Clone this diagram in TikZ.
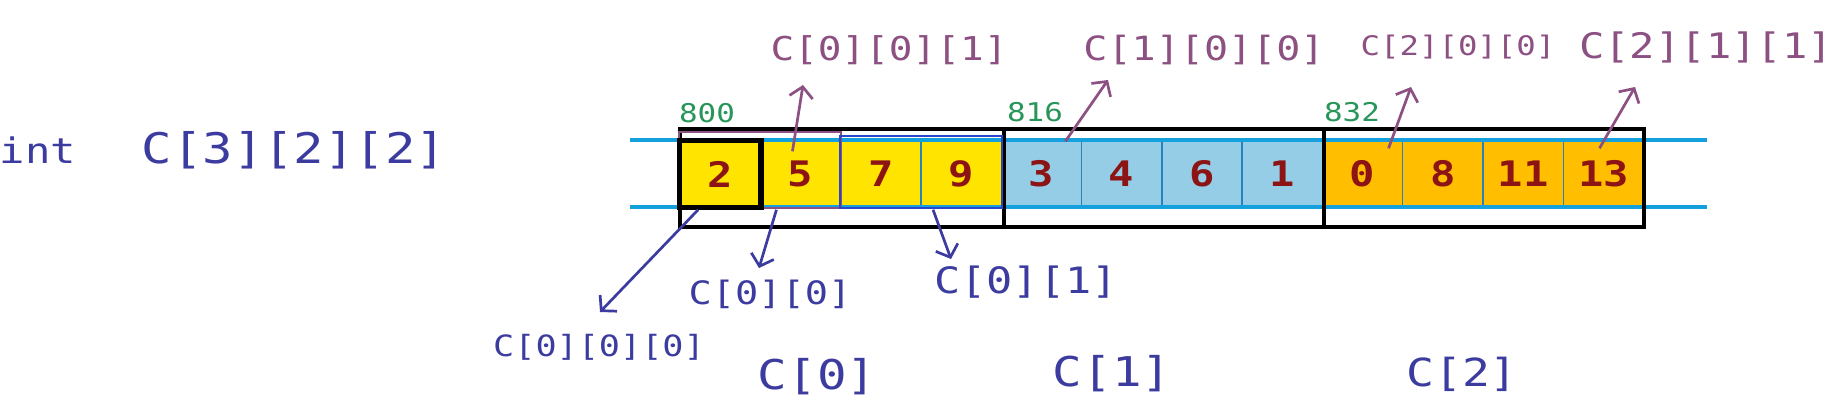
\documentclass[tikz,border=0pt]{standalone}
\usepackage{fontspec}
\newfontfamily\handfont[FakeStretch=1.2]{DejaVu Sans Mono}
\usetikzlibrary{arrows.meta}
\definecolor{yelcell}{RGB}{255,228,0}
\definecolor{bluecell}{RGB}{150,205,230}
\definecolor{orgcell}{RGB}{255,190,0}
\definecolor{numred}{RGB}{140,20,20}
\definecolor{plum}{RGB}{140,80,130}
\definecolor{navy}{RGB}{60,60,160}
\definecolor{addrgreen}{RGB}{40,150,90}
\definecolor{railblue}{RGB}{20,160,220}
\definecolor{gridblue}{RGB}{40,130,190}
\definecolor{rowblue}{RGB}{40,70,200}
\tikzset{
  hand/.style={font=\handfont\fontsize{#1}{#1}\selectfont, inner sep=0pt},
  cell/.style={draw=gridblue, line width=1.2pt, minimum width=2.409cm,
    minimum height=1.98cm, inner sep=0pt, text=numred, hand=30},
  rail/.style={railblue, line width=2.6pt},
  blockline/.style={black, line width=3.2pt},
  uparrow/.style={plum, line width=2.3pt, -{Straight Barb[length=9pt,width=20pt]}},
  downarrow/.style={navy, line width=2.3pt, -{Straight Barb[length=9pt,width=20pt]}}
}
\begin{document}
\begin{tikzpicture}[x=0.03cm, y=-0.03cm]
  \fill[white] (0,0) rectangle (1845,415);
  \useasboundingbox (0,0) rectangle (1845,415);
  \node[hand=30, text=navy] (int) at (38,150) {int};
  \node[hand=36, text=navy] (decl) at (294,150) {C[3][2][2]};
  \foreach \v [count=\i from 0] in {2,5,7,9}
    \node[cell, fill=yelcell] (c\i) at ({720.15+80.3*\i},174) {\bfseries\v};
  \foreach \v [count=\i from 4] in {3,4,6,1}
    \node[cell, fill=bluecell] (c\i) at ({720.15+80.3*\i},174) {\bfseries\v};
  \foreach \v [count=\i from 8] in {0,8,11,13}
    \node[cell, fill=orgcell] (c\i) at ({720.15+80.3*\i},174) {\bfseries\v};
  \draw[rail] (630,140) -- (1707,140);
  \draw[rail] (630,207) -- (1707,207);
  \draw[blockline] (680,129) rectangle (1004,227);
  \draw[blockline] (1004,129) rectangle (1324,227);
  \draw[blockline] (1324,129) rectangle (1644,227);
  \draw[plum, line width=2pt] ([yshift=0.24cm]c0.north west) rectangle (c1.south east);
  \draw[rowblue, line width=2pt] ([yshift=0.12cm]c2.north west) rectangle (c3.south east);
  \draw[black, line width=4.5pt] (c0.north west) rectangle (c0.south east);
  \node[hand=22, text=addrgreen] (a0) at (707,113) {800};
  \node[hand=22, text=addrgreen] (a1) at (1035,112) {816};
  \node[hand=22, text=addrgreen] (a2) at (1352,112) {832};
  \node[hand=28, text=plum] (t1) at (889,50) {C[0][0][1]};
  \node[hand=28.5, text=plum] (t2) at (1204,50) {C[1][0][0]};
  \node[hand=23, text=plum] (t3) at (1458,47) {C[2][0][0]};
  \node[hand=30, text=plum] (t4) at (1706,47) {C[2][1][1]};
  \node[hand=25, text=navy] (d0) at (599,347) {C[0][0][0]};
  \node[hand=27.5, text=navy] (d1) at (770,294) {C[0][0]};
  \node[hand=31, text=navy] (d2) at (1026,282) {C[0][1]};
  \node[hand=35, text=navy] (e0) at (817,377) {C[0]};
  \node[hand=35, text=navy] (e1) at (1112,374) {C[1]};
  \node[hand=33, text=navy] (e2) at (1462,374) {C[2]};
  \draw[uparrow] ([shift={(-8,11)}]c1.north) -- ([shift={(-86,35)}]t1.center);
  \draw[uparrow] ([shift={(24,1)}]c4.north) -- ([shift={(-96,30)}]t2.center);
  \draw[uparrow] ([shift={(26,8)}]c8.north) -- ([shift={(-47,40)}]t3.center);
  \draw[uparrow] ([shift={(-4,8)}]c11.north) -- ([shift={(-71,40)}]t4.center);
  \draw[downarrow] ([shift={(-22,2)}]c0.south) -- ([shift={(1,-35)}]d0.center);
  \draw[downarrow] ([shift={(-24,2)}]c1.south) -- ([shift={(-11,-26)}]d1.center);
  \draw[downarrow] ([shift={(-28,2)}]c3.south) -- ([shift={(-75,-23)}]d2.center);
\end{tikzpicture}
\end{document}
